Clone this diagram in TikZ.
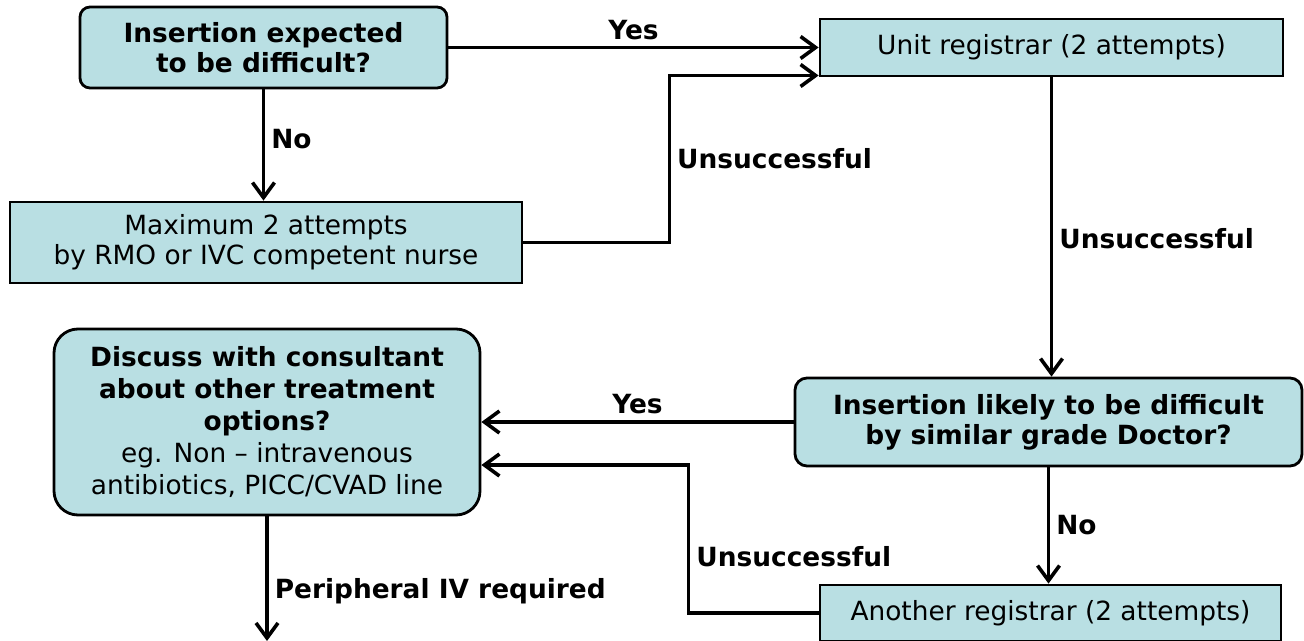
\documentclass[tikz,border=0pt]{standalone}
\usepackage{fontspec}
\setmainfont{DejaVu Sans}
\usetikzlibrary{arrows.meta,positioning}
\definecolor{boxfill}{RGB}{185,223,227}

\begin{document}
\begin{tikzpicture}[x=0.5pt,y=-0.5pt,
	every node/.style={font=\fontsize{13.2}{15}\selectfont},
	box/.style={draw=black,fill=boxfill,line width=1.4pt,align=center,inner sep=0pt},
	lbl/.style={font=\fontsize{13.2}{15}\selectfont\bfseries,inner sep=3pt},
	arr/.style={line width=1.8pt,-{Straight Barb[length=7.5pt,width=11pt]}}]
	\useasboundingbox (0,0) rectangle (1304,641);

	%question boxes
	\node [box,rounded corners=5pt,minimum width=183.5pt,minimum height=40.5pt,font=\fontsize{13.2}{15}\selectfont\bfseries] (expected) at (263.5,47.5) {Insertion expected\\to be difficult?};
	\node [box,rounded corners=12pt,minimum width=213pt,minimum height=93pt,font=\fontsize{13.2}{16}\selectfont] (consult) at (267,422) {\textbf{Discuss with consultant}\\\textbf{about other treatment}\\\textbf{options?}\\eg. Non -- intravenous\\antibiotics, PICC/CVAD line};
	\node [box,rounded corners=6pt,minimum width=253.5pt,minimum height=44pt,font=\fontsize{13.2}{15}\selectfont\bfseries] (likely) at (1048.5,422) {Insertion likely to be difficult\\by similar grade Doctor?};

	%attempt boxes
	\node [box,minimum width=231.5pt,minimum height=28.5pt] (unit) at (1051.5,47.5) {Unit registrar (2 attempts)};
	\node [box,minimum width=256pt,minimum height=40.5pt] (maxtwo) at (266,242.5) {Maximum 2 attempts\\by RMO or IVC competent nurse};
	\node [box,minimum width=230.5pt,minimum height=28pt] (another) at (1050.5,613) {Another registrar (2 attempts)};
	\coordinate (end) at (267,641);

	%edges
	\draw[arr] (expected) -- node[lbl,above] {Yes} (unit);
	\draw[arr] (expected.south) -- node[lbl,right,pos=0.45] {No} (expected.south |- maxtwo.north);
	\draw[arr] (maxtwo.east) -- ++(73pt,0) |- node[lbl,pos=0.25,right] {Unsuccessful} ([yshift=-14pt]unit.west);
	\draw[arr] (unit.south) -- node[lbl,right,pos=0.54] {Unsuccessful} (unit.south |- likely.north);
	\draw[arr] (likely.west) -- node[lbl,above] {Yes} (likely.west -| consult.east);
	\draw[arr] (likely.south) -- node[lbl,right] {No} (likely.south |- another.north);
	\draw[arr] (another.west) -- ++(-65pt,0) node[lbl,anchor=south west,yshift=19pt] {Unsuccessful} |- ([yshift=-21.5pt]consult.east);
	\draw[arr] (consult.south) -- node[lbl,pos=0.6,right] {Peripheral IV required} (end);
\end{tikzpicture}
\end{document}
